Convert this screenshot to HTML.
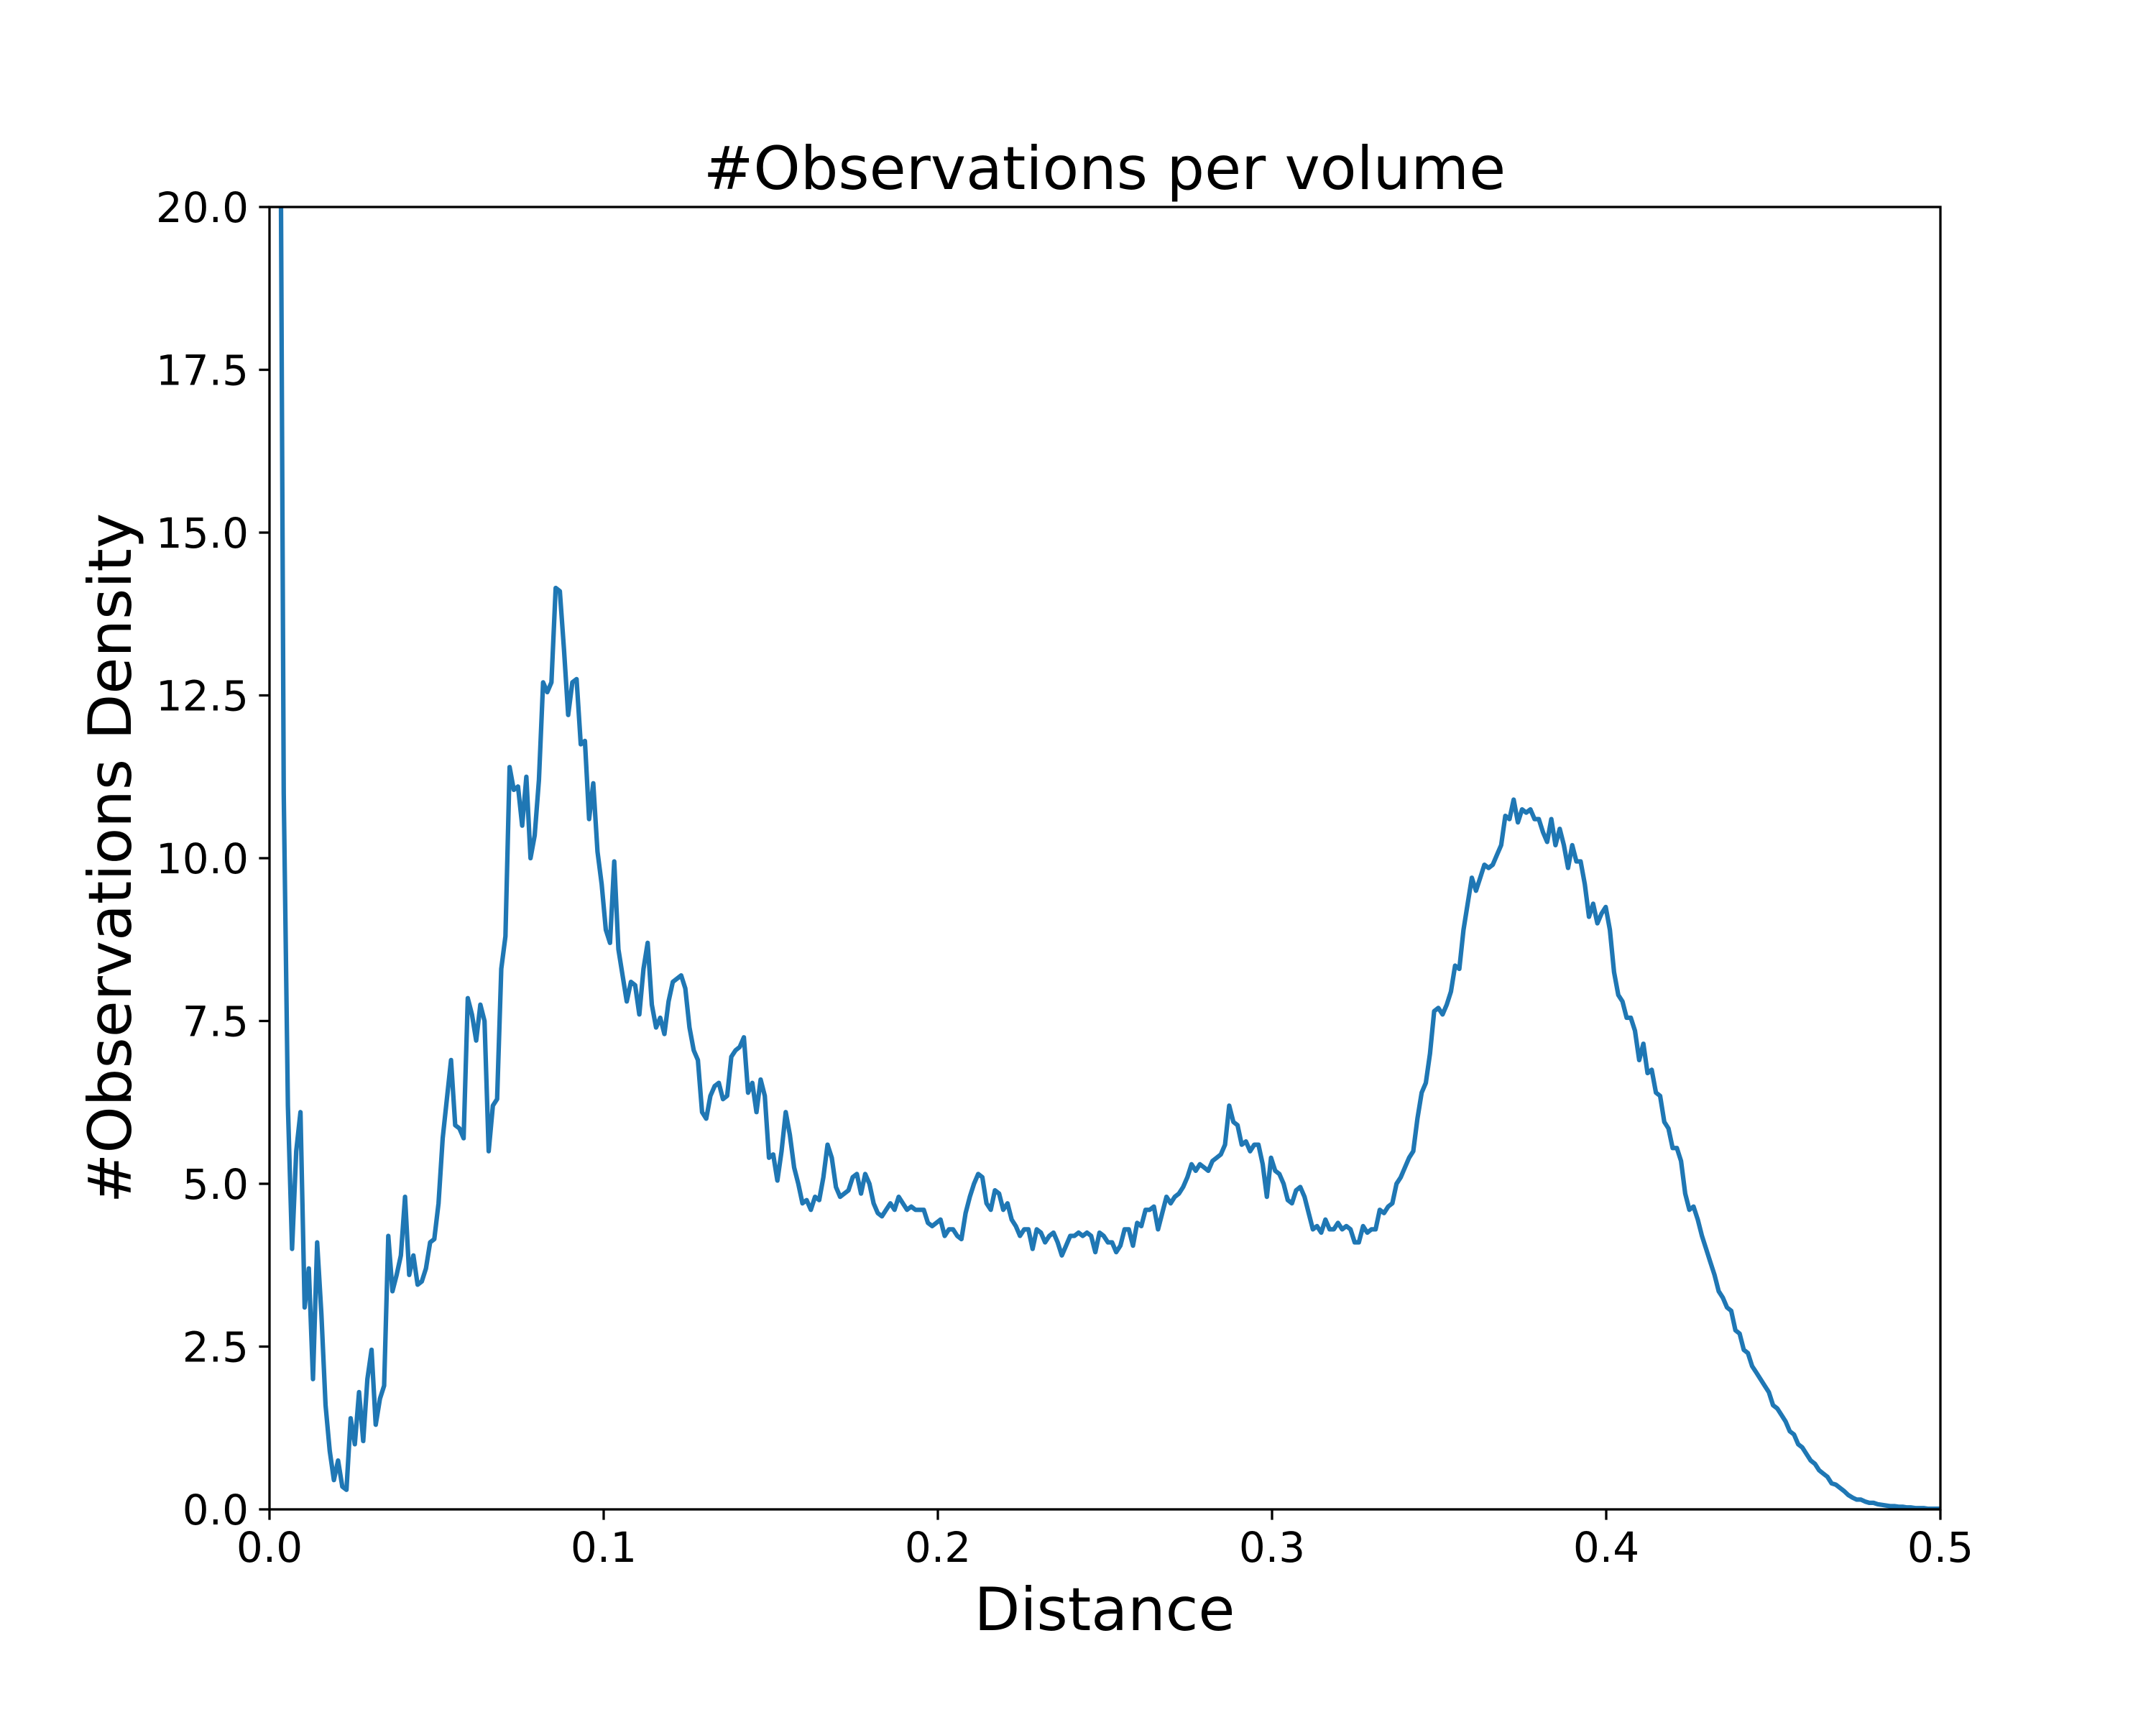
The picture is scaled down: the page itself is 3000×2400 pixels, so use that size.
<!DOCTYPE html>
<html><head><meta charset="utf-8">
<style>
html,body{margin:0;padding:0;background:#fff;}
svg{display:block;}
text{font-family:"DejaVu Sans","Liberation Sans",sans-serif;fill:#000;}
</style></head>
<body>
<svg id="chart" width="3000" height="2400" viewBox="0 0 3000 2400" xmlns="http://www.w3.org/2000/svg">
<rect width="3000" height="2400" fill="#fff"/>
<defs><clipPath id="plotclip"><rect x="375" y="288" width="2325" height="1812"/></clipPath></defs>
<g id="ticks"></g>
<g clip-path="url(#plotclip)"><path id="line" fill="none" stroke="#1f77b4" stroke-width="6.25" stroke-linejoin="round" stroke-linecap="square"/></g>
<rect x="375" y="288" width="2325" height="1812" fill="none" stroke="#000" stroke-width="3.3"/>
<text x="1537" y="263" font-size="83" text-anchor="middle">#Observations per volume</text>
<text x="1537" y="2268" font-size="83" text-anchor="middle">Distance</text>
<text x="182" y="1194" font-size="83" text-anchor="middle" transform="rotate(-90 182 1194)">#Observations Density</text>
</svg>
<script>
const xTicks = [0.0, 0.1, 0.2, 0.3, 0.4, 0.5];
const xTickLabels = ["0.0", "0.1", "0.2", "0.3", "0.4", "0.5"];
const yTicks = [0, 2.5, 5, 7.5, 10, 12.5, 15, 17.5, 20];
const yTickLabels = ["0.0", "2.5", "5.0", "7.5", "10.0", "12.5", "15.0", "17.5", "20.0"];
const densityValues = [
25, 11.0, 6.2, 4.0, 5.5, 6.1, 3.1, 3.7, 2.0, 4.1, 3.0, 1.6, 0.9, 0.45, 0.75, 0.35, 0.3, 1.4, 1.0, 1.8, 1.05, 2.0, 2.45, 1.3, 1.7, 1.9, 4.2, 3.35, 3.6, 3.9, 4.8, 3.6, 3.9, 3.45, 3.5, 3.7, 4.1, 4.15, 4.7, 5.7, 6.3, 6.9, 5.9, 5.85, 5.7, 7.85, 7.6, 7.2, 7.75, 7.5, 5.5, 6.2, 6.3, 8.3, 8.8, 11.4, 11.05, 11.1, 10.5, 11.25, 10.0, 10.35, 11.2, 12.7, 12.55, 12.7, 14.15, 14.1, 13.2, 12.2, 12.7, 12.75, 11.75, 11.8, 10.6, 11.15, 10.1, 9.6, 8.9, 8.7, 9.95, 8.6, 8.2, 7.8, 8.1, 8.05, 7.6, 8.3, 8.7, 7.75, 7.4, 7.55, 7.3, 7.8, 8.1, 8.15, 8.2, 8.0, 7.4, 7.05, 6.9, 6.1, 6.0, 6.35, 6.5, 6.55, 6.3, 6.35, 6.95, 7.05, 7.1, 7.25, 6.4, 6.55, 6.1, 6.6, 6.35, 5.4, 5.45, 5.05, 5.5, 6.1, 5.75, 5.25, 5.0, 4.7, 4.75, 4.6, 4.8, 4.75, 5.1, 5.6, 5.4, 4.95, 4.8, 4.85, 4.9, 5.1, 5.15, 4.85, 5.15, 5.0, 4.7, 4.55, 4.5, 4.6, 4.7, 4.6, 4.8, 4.7, 4.6, 4.65, 4.6, 4.6, 4.6, 4.4, 4.35, 4.4, 4.45, 4.2, 4.3, 4.3, 4.2, 4.15, 4.55, 4.8, 5.0, 5.15, 5.1, 4.7, 4.6, 4.9, 4.85, 4.6, 4.7, 4.45, 4.35, 4.2, 4.3, 4.3, 4.0, 4.3, 4.25, 4.1, 4.2, 4.25, 4.1, 3.9, 4.05, 4.2, 4.2, 4.25, 4.2, 4.25, 4.2, 3.95, 4.25, 4.2, 4.1, 4.1, 3.95, 4.05, 4.3, 4.3, 4.05, 4.4, 4.35, 4.6, 4.6, 4.65, 4.3, 4.55, 4.8, 4.7, 4.8, 4.85, 4.95, 5.1, 5.3, 5.2, 5.3, 5.25, 5.2, 5.35, 5.4, 5.45, 5.6,
6.2, 5.95, 5.9, 5.6, 5.65, 5.5, 5.6, 5.6, 5.3, 4.8, 5.4, 5.2, 5.15, 5.0, 4.75, 4.7, 4.9, 4.95, 4.8, 4.55, 4.3, 4.35, 4.25, 4.45, 4.3, 4.3, 4.4, 4.3, 4.35, 4.3, 4.1, 4.1, 4.35, 4.25, 4.3, 4.3, 4.6, 4.55, 4.65, 4.7, 5.0, 5.1, 5.25, 5.4, 5.5, 6.0, 6.4, 6.55, 7.0, 7.65, 7.7, 7.6, 7.75, 7.95, 8.35, 8.3, 8.9, 9.3, 9.7, 9.5, 9.7, 9.9, 9.85, 9.9, 10.05, 10.2, 10.65, 10.6, 10.9, 10.55, 10.75, 10.7, 10.75, 10.6, 10.6, 10.4, 10.25, 10.6, 10.2, 10.45, 10.2, 9.85, 10.2, 9.95, 9.95, 9.6, 9.1, 9.3, 9.0, 9.15, 9.25, 8.9, 8.25, 7.9, 7.8, 7.55, 7.55, 7.35, 6.9, 7.15, 6.7, 6.75, 6.4, 6.35, 5.95, 5.85, 5.55, 5.55, 5.35, 4.85, 4.6, 4.65, 4.45, 4.2, 4.0, 3.8, 3.6, 3.35, 3.25, 3.1, 3.05, 2.75, 2.7, 2.45, 2.4, 2.2, 2.1, 2.0, 1.9, 1.8, 1.6, 1.55, 1.45, 1.35, 1.2, 1.15, 1.0, 0.95, 0.85, 0.75, 0.7, 0.6, 0.55, 0.5, 0.4, 0.38, 0.33, 0.28, 0.22, 0.18, 0.15, 0.15, 0.12, 0.1, 0.1, 0.08, 0.07, 0.06, 0.05, 0.05, 0.04, 0.04, 0.03, 0.03, 0.02, 0.02, 0.02, 0.01, 0.01, 0.01, 0.01
];
const distStart = 0.003;
const distEnd = 0.5;

const X0 = 375, X1 = 2700, Y0 = 2100, Y1 = 288;
function xScale(v){ return X0 + (v - 0) / (0.5 - 0) * (X1 - X0); }
function yScale(v){ return Y0 - (v - 0) / (20 - 0) * (Y0 - Y1); }
const NS = "http://www.w3.org/2000/svg";
const tg = document.getElementById('ticks');

xTicks.forEach((t, i) => {
  const x = xScale(t);
  const l = document.createElementNS(NS, 'line');
  l.setAttribute('x1', x); l.setAttribute('x2', x);
  l.setAttribute('y1', Y0); l.setAttribute('y2', Y0 + 14.6);
  l.setAttribute('stroke', '#000'); l.setAttribute('stroke-width', '3.3');
  
  
  tg.appendChild(l);
  const tx = document.createElementNS(NS, 'text');
  tx.setAttribute('x', x); tx.setAttribute('y', 2173);
  tx.setAttribute('font-size', '58'); tx.setAttribute('text-anchor', 'middle');
  tx.textContent = xTickLabels[i];
  
  
  tg.appendChild(tx);
});
yTicks.forEach((t, i) => {
  const y = yScale(t);
  const l = document.createElementNS(NS, 'line');
  l.setAttribute('x1', X0 - 14.6); l.setAttribute('x2', X0);
  l.setAttribute('y1', y); l.setAttribute('y2', y);
  l.setAttribute('stroke', '#000'); l.setAttribute('stroke-width', '3.3');
  
  
  tg.appendChild(l);
  const tx = document.createElementNS(NS, 'text');
  tx.setAttribute('x', 346); tx.setAttribute('y', y + 21);
  tx.setAttribute('font-size', '58'); tx.setAttribute('text-anchor', 'end');
  tx.textContent = yTickLabels[i];
  
  
  tg.appendChild(tx);
});

const n = densityValues.length;
let d = '';
densityValues.forEach((v, i) => {
  const dist = distStart + (distEnd - distStart) * i / (n - 1);
  d += (i ? 'L' : 'M') + xScale(dist).toFixed(1) + ' ' + yScale(v).toFixed(1);
});
document.getElementById('line').setAttribute('d', d);
</script>
</body></html>
